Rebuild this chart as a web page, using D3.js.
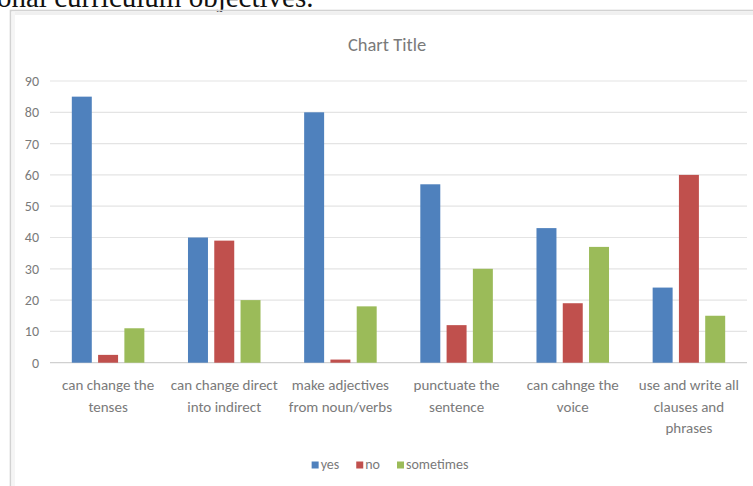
<!DOCTYPE html>
<html>
<head>
<meta charset="utf-8">
<script src="https://cdn.jsdelivr.net/npm/d3@7"></script>
<style>
  html, body { margin: 0; padding: 0; background: #fff; }
  svg { display: block; }
  .lbl { font-family: Carlito, Lato, "Liberation Sans", sans-serif; fill: #7a7a7a; }
</style>
</head>
<body>
<svg id="chart" width="753" height="486"></svg>
<script>
// Chart data
const categories = [
  "can change the\ntenses",
  "can change direct\ninto indirect",
  "make adjectives\nfrom noun/verbs",
  "punctuate the\nsentence",
  "can cahnge the\nvoice",
  "use and write all\nclauses and\nphrases"
];
const seriesNames = ["yes", "no", "sometimes"];
const yesValues = [85, 40, 80, 57, 43, 24];
const noValues = [2.5, 39, 1, 12, 19, 60];
const sometimesValues = [11, 20, 18, 30, 37, 15];
const yTicks = [0, 10, 20, 30, 40, 50, 60, 70, 80, 90];
const colors = ["#4F81BD", "#C0504D", "#9BBB59"];

const seriesValues = [yesValues, noValues, sometimesValues];
const W = 753, H = 486;
const svg = d3.select("#chart");

svg.append("rect").attr("width", W).attr("height", H).attr("fill", "#fff");

// Running document text above the chart object
svg.append("text")
  .attr("x", -3).attr("y", 7)
  .attr("font-family", "'Liberation Serif', 'DejaVu Serif', serif")
  .attr("font-size", 29)
  .attr("fill", "#111")
  .text("onal curriculum objectives.");

// Chart area frame with soft edge
svg.append("rect")
  .attr("x", 10.5).attr("y", 10.5)
  .attr("width", W + 20).attr("height", H + 20)
  .attr("fill", "none").attr("stroke", "#d2d2d2").attr("stroke-width", 1.6);
svg.append("line")
  .attr("x1", 12).attr("x2", W).attr("y1", 13.5).attr("y2", 13.5)
  .attr("stroke", "#f0f0f0").attr("stroke-width", 3);
svg.append("line")
  .attr("x1", 13.5).attr("x2", 13.5).attr("y1", 12).attr("y2", H)
  .attr("stroke", "#f5f5f5").attr("stroke-width", 3);

// Title
svg.append("text")
  .attr("class", "lbl")
  .attr("x", 387).attr("y", 51)
  .attr("text-anchor", "middle")
  .attr("font-size", 18.5)
  .attr("fill", "#6e6e6e")
  .text("Chart Title");

// Scales
const plot = { left: 50, right: 747, top: 81, bottom: 362.7 };
const y = d3.scaleLinear().domain([0, 90]).range([plot.bottom, plot.top]);
const x0 = d3.scaleBand().domain(categories).range([plot.left, plot.right]).paddingInner(0).paddingOuter(0);
const x1 = d3.scaleBand().domain(seriesNames).range([0, x0.bandwidth()]).paddingInner(0.24).paddingOuter(0.83);

// Gridlines
svg.append("g").selectAll("line")
  .data(yTicks)
  .join("line")
  .attr("x1", plot.left).attr("x2", plot.right)
  .attr("y1", d => y(d)).attr("y2", d => y(d))
  .attr("stroke", d => d === 0 ? "#d0d0d0" : "#e4e4e4")
  .attr("stroke-width", 1.2);

// Y axis labels
const yAxis = d3.axisLeft(y).tickValues(yTicks).tickSize(0).tickPadding(0);
const gy = svg.append("g").attr("transform", "translate(39,0)").call(yAxis);
gy.select(".domain").remove();
gy.selectAll("text")
  .attr("class", "lbl")
  .attr("font-size", 14)
  .attr("fill", "#7a7a7a");

// Bars
const rows = categories.map((c, i) => ({ cat: c, vals: seriesNames.map((s, j) => ({ s, j, v: seriesValues[j][i] })) }));
svg.append("g").selectAll("g")
  .data(rows)
  .join("g")
  .attr("transform", d => `translate(${x0(d.cat)},0)`)
  .selectAll("rect")
  .data(d => d.vals)
  .join("rect")
  .attr("x", d => x1(d.s))
  .attr("width", x1.bandwidth())
  .attr("y", d => y(d.v))
  .attr("height", d => y(0) - y(d.v))
  .attr("fill", d => colors[d.j]);

// Category labels
const gx = svg.append("g");
categories.forEach(c => {
  const cx = x0(c) + x0.bandwidth() / 2;
  const t = gx.append("text")
    .attr("class", "lbl")
    .attr("text-anchor", "middle")
    .attr("font-size", 15)
    .attr("x", cx)
    .attr("y", 390);
  c.split("\n").forEach((line, k) => {
    t.append("tspan")
      .attr("x", cx)
      .attr("dy", k === 0 ? 0 : 21.5)
      .text(line);
  });
});

// Legend
const legend = svg.append("g");
let lx = 0;
const gap = 17;
seriesNames.forEach((s, j) => {
  const g = legend.append("g");
  g.append("rect").attr("x", 0).attr("y", -7.5).attr("width", 7).attr("height", 7).attr("fill", colors[j]);
  const t = g.append("text").attr("class", "lbl").attr("x", 9).attr("y", 0).attr("font-size", 14).text(s);
  const w = 9 + t.node().getComputedTextLength();
  g.attr("transform", `translate(${lx},0)`);
  lx += w + gap;
});
const total = lx - gap;
legend.attr("transform", `translate(${390 - total / 2},469)`);
</script>
</body>
</html>
